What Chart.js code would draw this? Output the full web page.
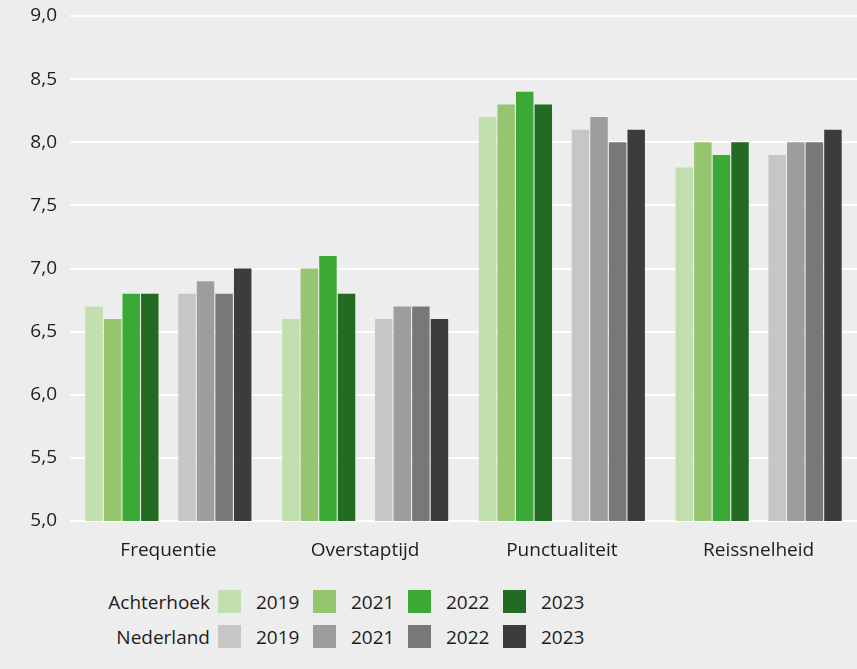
<!DOCTYPE html>
<html>
<head>
<meta charset="utf-8">
<script src="https://cdn.jsdelivr.net/npm/chart.js@4.4.1/dist/chart.umd.min.js"></script>
<style>
html,body{margin:0;padding:0;background:#ededed;}
body{width:857px;height:669px;position:relative;overflow:hidden;font-family:"Open Sans",sans-serif;color:#1d1d1b;}
#wrap{position:absolute;left:0;top:0;width:857px;height:580px;}
#legend{position:absolute;left:0;top:584px;font-size:19px;}
.lrow{display:flex;align-items:center;height:35px;}
.lname{width:218px;text-align:right;padding-right:8px;box-sizing:border-box;}
.litem{display:flex;align-items:center;width:95px;}
.sw{width:23px;height:23px;margin-right:15px;}
</style>
</head>
<body>
<div id="wrap"><canvas id="c"></canvas></div>
<div id="legend"></div>
<script>
// categories and series
var CATS=["Frequentie","Overstaptijd","Punctualiteit","Reissnelheid"];
var YEARS=["2019","2021","2022","2023"];
var REGIONS=["Achterhoek","Nederland"];

var ACH_2019=[6.7,6.6,8.2,7.8];
var ACH_2021=[6.6,7.0,8.3,8.0];
var ACH_2022=[6.8,7.1,8.4,7.9];
var ACH_2023=[6.8,6.8,8.3,8.0];

var NL_2019=[6.8,6.6,8.1,7.9];
var NL_2021=[6.9,6.7,8.2,8.0];
var NL_2022=[6.8,6.7,8.0,8.0];
var NL_2023=[7.0,6.6,8.1,8.1];

var GREENS=["#c3dfb0","#95c56f","#3aa935","#236b22"];
var GREYS=["#c6c6c6","#9d9d9c","#787877","#3c3c3b"];

var ach=[ACH_2019,ACH_2021,ACH_2022,ACH_2023];
var nl=[NL_2019,NL_2021,NL_2022,NL_2023];

var ds=[];
ach.forEach(function(d,i){
  ds.push({label:REGIONS[0]+" "+YEARS[i],data:d,backgroundColor:GREENS[i]});
});
// empty spacer between the two groups
ds.push({label:"",data:CATS.map(function(){return null;}),backgroundColor:"rgba(0,0,0,0)"});
nl.forEach(function(d,i){
  ds.push({label:REGIONS[1]+" "+YEARS[i],data:d,backgroundColor:GREYS[i]});
});
ds.forEach(function(d){
  d.categoryPercentage=0.85;
  d.barPercentage=0.94;
  d.borderWidth=0;
});

var F={family:"Open Sans",size:19};

new Chart(document.getElementById("c"),{
  type:"bar",
  data:{labels:CATS,datasets:ds},
  options:{
    responsive:true,
    maintainAspectRatio:false,
    animation:false,
    layout:{padding:{top:16,right:0,bottom:0,left:0}},
    plugins:{legend:{display:false},tooltip:{enabled:false}},
    scales:{
      x:{
        grid:{display:false},
        border:{display:false},
        ticks:{color:"#1d1d1b",font:F,padding:10},
        afterFit:function(s){s.height=59;s.paddingLeft=0;s.paddingRight=0;}
      },
      y:{
        min:5,max:9,
        border:{display:false},
        grid:{color:"#ffffff",lineWidth:2,drawTicks:false},
        ticks:{
          stepSize:0.5,color:"#1d1d1b",font:F,padding:13,
          callback:function(v){return v.toFixed(1).replace(".",",");}
        },
        afterFit:function(s){s.width=70;s.paddingTop=0;s.paddingBottom=0;}
      }
    }
  }
});

// legend
var lg=document.getElementById("legend");
[GREENS,GREYS].forEach(function(cols,r){
  var row=document.createElement("div");
  row.className="lrow";
  var h="<div class='lname'>"+REGIONS[r]+"</div>";
  YEARS.forEach(function(y,i){
    h+="<div class='litem'><div class='sw' style='background:"+cols[i]+"'></div><span>"+y+"</span></div>";
  });
  row.innerHTML=h;
  lg.appendChild(row);
});
</script>
</body>
</html>
